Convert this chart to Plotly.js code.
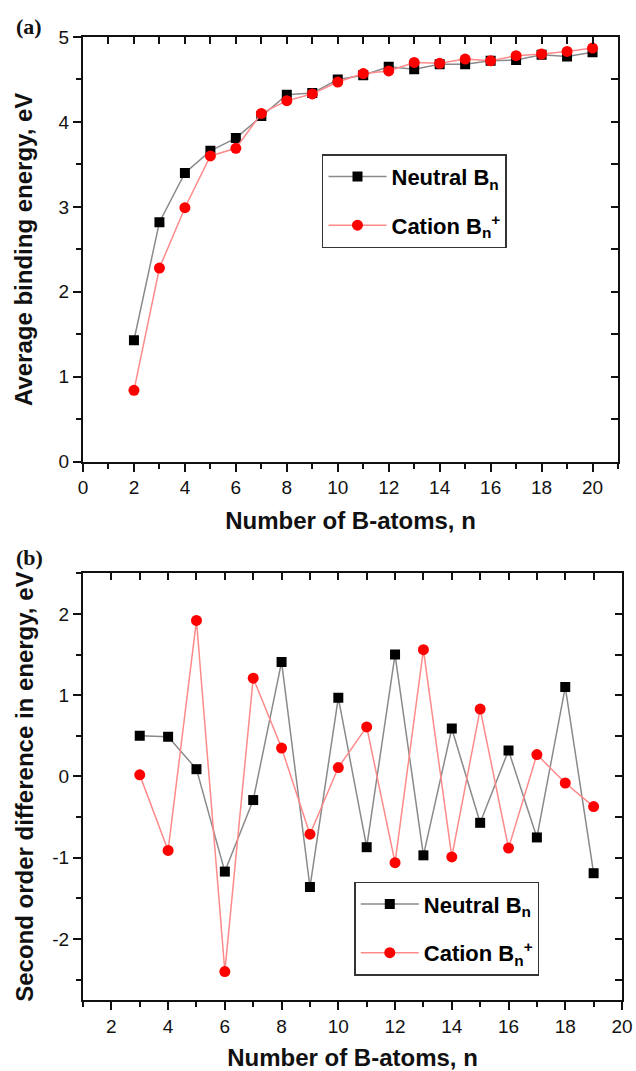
<!DOCTYPE html>
<html>
<head>
<meta charset="utf-8">
<script src="https://cdn.plot.ly/plotly-3.0.1.min.js"></script>
<style>html,body{margin:0;padding:0;background:#fff;}#chart{width:636px;height:1071px;}</style>
</head>
<body>
<div id="chart"></div>
<script>
// ---- Data ----
const nTop = [2,3,4,5,6,7,8,9,10,11,12,13,14,15,16,17,18,19,20];
const neutralBE = [1.43,2.82,3.40,3.66,3.81,4.07,4.32,4.34,4.50,4.55,4.65,4.62,4.68,4.68,4.72,4.73,4.79,4.77,4.82];
const cationBE  = [0.84,2.28,2.99,3.60,3.69,4.10,4.25,4.33,4.47,4.57,4.60,4.70,4.69,4.74,4.72,4.78,4.80,4.83,4.87];

const nBot = [3,4,5,6,7,8,9,10,11,12,13,14,15,16,17,18,19];
const neutralD2 = [0.50,0.49,0.09,-1.17,-0.29,1.41,-1.36,0.97,-0.87,1.50,-0.97,0.59,-0.57,0.32,-0.75,1.10,-1.19];
const cationD2  = [0.02,-0.91,1.92,-2.40,1.21,0.35,-0.71,0.11,0.61,-1.06,1.56,-0.99,0.83,-0.88,0.27,-0.08,-0.37];

const yBotTickVals = [-2,-1,0,1,2];
const yBotTickText = ['-2','-1','0','1','2'];

const xTitle = 'Number of B-atoms, n';
const yTitleTop = 'Average binding energy, eV';
const yTitleBot = 'Second order difference in energy, eV';
const nameNeutral = 'Neutral B<sub>n</sub>';
const nameCation = 'Cation B<sub>n</sub><sup>+</sup>';

// ---- Styles ----
const FONT = 'Liberation Sans, Arial, sans-serif';
const neutralLine = {color:'#8a8a8a', width:1.5};
const cationLine = {color:'#ff8a8a', width:1.5};
const neutralMarker = {symbol:'square', size:10, color:'#000000'};
const cationMarker = {symbol:'circle', size:11, color:'#ff0000'};

const traces = [
  {x:nTop, y:neutralBE, name:nameNeutral, mode:'lines+markers', line:neutralLine, marker:neutralMarker,
   xaxis:'x', yaxis:'y', legend:'legend', legendgroup:'a1'},
  {x:nTop, y:cationBE, name:nameCation, mode:'lines+markers', line:cationLine, marker:cationMarker,
   xaxis:'x', yaxis:'y', legend:'legend', legendgroup:'a2'},
  {x:nBot, y:neutralD2, name:nameNeutral, mode:'lines+markers', line:neutralLine, marker:neutralMarker,
   xaxis:'x2', yaxis:'y2', legend:'legend2', legendgroup:'b1'},
  {x:nBot, y:cationD2, name:nameCation, mode:'lines+markers', line:cationLine, marker:cationMarker,
   xaxis:'x2', yaxis:'y2', legend:'legend2', legendgroup:'b2'},
  // empty helper traces that attach the inward top/right tick axes
  {x:[], y:[], xaxis:'x3', yaxis:'y', showlegend:false, hoverinfo:'skip'},
  {x:[], y:[], xaxis:'x', yaxis:'y3', showlegend:false, hoverinfo:'skip'},
  {x:[], y:[], xaxis:'x4', yaxis:'y2', showlegend:false, hoverinfo:'skip'},
  {x:[], y:[], xaxis:'x2', yaxis:'y4', showlegend:false, hoverinfo:'skip'}
];

const tickFont = {family:FONT, size:19, color:'#111'};
const titleFont = {family:FONT, size:24, color:'#111', weight:'bold'};

function mainAxis(extra){
  return Object.assign({
    showline:true, linecolor:'#111', linewidth:2, mirror:true,
    ticks:'outside', ticklen:8, tickwidth:2, tickcolor:'#111',
    showgrid:false, zeroline:false, tickfont:tickFont, fixedrange:true
  }, extra);
}
function mirrorAxis(extra){
  return Object.assign({
    showline:false, ticks:'inside', ticklen:7, tickwidth:2, tickcolor:'#111',
    showgrid:false, zeroline:false, showticklabels:false, fixedrange:true
  }, extra);
}
const minorTicks = (d, t0) => ({ticks:'outside', ticklen:5, dtick:d, tick0:t0, tickwidth:2, tickcolor:'#111'});

const legendCommon = {
  bgcolor:'#ffffff', bordercolor:'#333', borderwidth:1.5,
  font:{family:FONT, size:22, color:'#000', weight:'bold'},
  xanchor:'left', yanchor:'top', tracegroupgap:17, itemwidth:58
};

const layout = {
  width:636, height:1071,
  margin:{l:83, r:14, t:37, b:71},
  paper_bgcolor:'#fff', plot_bgcolor:'#fff',
  showlegend:true,
  xaxis: mainAxis({domain:[0,0.9926], anchor:'y', range:[0,21], dtick:2, tick0:0,
    minor:minorTicks(1,0), title:{text:xTitle, font:titleFont, standoff:15}}),
  yaxis: mainAxis({domain:[0.559,1], anchor:'x', range:[0,5], dtick:1, tick0:0,
    minor:minorTicks(0.5,0), title:{text:yTitleTop, font:titleFont, standoff:19}}),
  xaxis3: mirrorAxis({overlaying:'x', side:'top', anchor:'y', range:[0,21], dtick:1, tick0:0}),
  yaxis3: mirrorAxis({overlaying:'y', side:'right', anchor:'x', range:[0,5], dtick:0.5, tick0:0}),

  xaxis2: mainAxis({domain:[0,1], anchor:'y2', range:[1,20], dtick:2, tick0:0,
    minor:minorTicks(1,1), title:{text:xTitle, font:titleFont, standoff:14}}),
  yaxis2: mainAxis({domain:[0,0.4431], anchor:'x2', range:[-2.75,2.5],
    tickmode:'array', tickvals:yBotTickVals, ticktext:yBotTickText,
    minor:minorTicks(0.5,0), title:{text:yTitleBot, font:titleFont, standoff:12}}),
  xaxis4: mirrorAxis({overlaying:'x2', side:'top', anchor:'y2', range:[1,20], dtick:1, tick0:1}),
  yaxis4: mirrorAxis({overlaying:'y2', side:'right', anchor:'x2', range:[-2.75,2.5], dtick:0.5, tick0:0}),

  legend: Object.assign({x:0.4434, y:0.8782}, legendCommon),
  legend2: Object.assign({x:0.5033, y:0.1228}, legendCommon),

  annotations:[
    {text:'<b>(a)</b>', xref:'paper', yref:'paper', x:-0.128, y:1.0104, xanchor:'left', yanchor:'middle',
     showarrow:false, font:{family:'Liberation Serif, Times New Roman, serif', size:22, color:'#111'}},
    {text:'<b>(b)</b>', xref:'paper', yref:'paper', x:-0.128, y:0.459, xanchor:'left', yanchor:'middle',
     showarrow:false, font:{family:'Liberation Serif, Times New Roman, serif', size:22, color:'#111'}}
  ]
};

Plotly.newPlot('chart', traces, layout, {displayModeBar:false});
</script>
</body>
</html>
